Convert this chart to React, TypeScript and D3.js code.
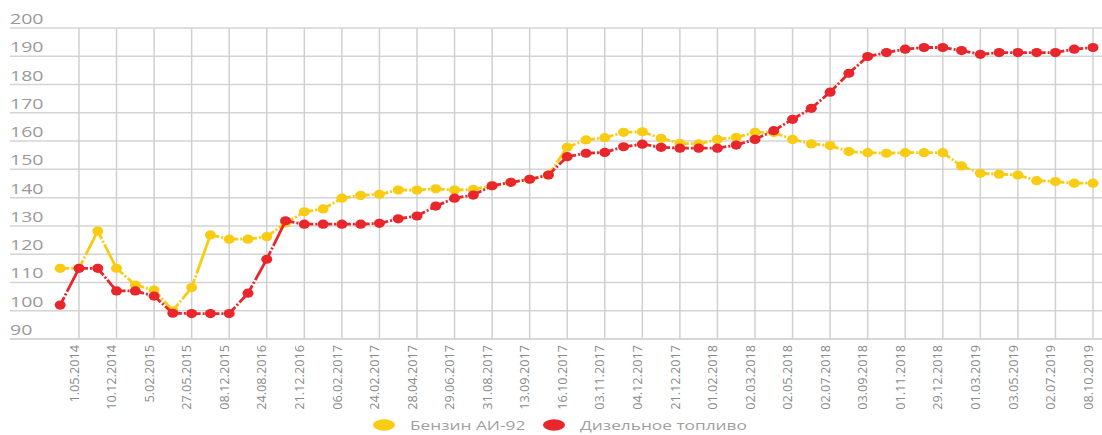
import React from "react";
import * as d3 from "d3";

const dateLabels = [
  "1.05.2014", "10.12.2014", "5.02.2015", "27.05.2015", "08.12.2015", "24.08.2016",
  "21.12.2016", "06.02.2017", "24.02.2017", "28.04.2017", "29.06.2017", "31.08.2017",
  "13.09.2017", "16.10.2017", "03.11.2017", "04.12.2017", "21.12.2017", "01.02.2018",
  "02.03.2018", "02.05.2018", "02.07.2018", "03.09.2018", "01.11.2018", "29.12.2018",
  "01.03.2019", "03.05.2019", "02.07.2019", "08.10.2019",
];

const benzin = [
  115, 115, 128.2, 115, 109.1, 107.3, 100, 108.2, 126.8, 125.3, 125.3, 126.2, 131, 135,
  136, 139.8, 140.8, 141.2, 142.7, 142.7, 143.1, 142.7, 142.9, 144.2, 145.4, 146.5, 148, 157.8,
  160.4, 161.2, 163.1, 163.3, 161, 159.2, 159, 160.6, 161.3, 163.1, 163, 160.6, 159, 158.4,
  156.3, 155.9, 155.7, 155.9, 155.9, 155.9, 151.2, 148.6, 148.3, 148, 146, 145.7, 145.1, 145.1,
];

const diesel = [
  102, 115, 115, 107, 107, 105.2, 99.1, 99, 99, 99, 106.2, 118.2, 131.8, 130.6,
  130.6, 130.6, 130.6, 130.9, 132.5, 133.5, 137, 139.8, 140.9, 144.2, 145.4, 146.5, 148, 154.5,
  155.7, 156, 158, 158.9, 157.8, 157.5, 157.5, 157.5, 158.6, 160.6, 163.7, 167.7, 171.6, 177.3,
  184, 189.9, 191.3, 192.5, 193.1, 193.1, 192, 190.7, 191.3, 191.3, 191.3, 191.3, 192.5, 193.1,
];

const yTicks = [200, 190, 180, 170, 160, 150, 140, 130, 120, 110, 100, 90];

const seriesNames = ["Бензин АИ-92", "Дизельное топливо"];
const seriesColors = ["#f7cc12", "#e8262c"];

export default function App() {
  const W = 1102;
  const H = 435;
  const n = benzin.length;
  const x = d3.scaleLinear().domain([0, n - 1]).range([60.2, 1093]);
  const y = d3.scaleLinear().domain([90, 200]).range([339, 28]);
  const gridX = dateLabels.map((_, k) => x(2 * k + 1));
  const line = d3.line<[number, number]>().x((d) => d[0]).y((d) => d[1]);

  const series = [benzin, diesel];

  return (
    <div style={{ position: "absolute", left: 0, top: 0 }}>
      <svg width={W} height={H} style={{ display: "block", fontFamily: "'Open Sans', sans-serif" }}>
        <rect width={W} height={H} fill="#fff" />
        {yTicks.map((t) => (
          <line key={"h" + t} x1={10} x2={W} y1={y(t)} y2={y(t)} stroke={t === 90 ? "#c8c8c8" : "#d4d4d4"} strokeWidth={1.5} />
        ))}
        {gridX.map((gx, k) => (
          <line key={"v" + k} x1={gx} x2={gx} y1={y(200)} y2={y(90)} stroke="#d0d0d0" strokeWidth={1.5} />
        ))}
        {yTicks.map((t) => (
          <text key={"yl" + t} transform={`translate(10,${y(t) - 4}) scale(1.3,1)`} fontSize={15} fill="#9a9a9a">
            {t}
          </text>
        ))}
        {dateLabels.map((lab, k) => (
          <text
            key={"xl" + k}
            transform={`translate(${gridX[k] - 5},345) rotate(-90) scale(1.06,1.1)`}
            textAnchor="end"
            dy="0.35em"
            fontSize={12}
            fill="#8a8a8a"
          >
            {lab}
          </text>
        ))}
        {series.map((vals, s) => (
          <g key={"s" + s}>
            {vals.slice(1).map((v, i) => (
              <path
                key={"seg" + i}
                d={line([[x(i), y(vals[i])], [x(i + 1), y(v)]]) || ""}
                fill="none"
                stroke={seriesColors[s]}
                strokeWidth={2.8}
                strokeDasharray="9 2 2 2 200"
              />
            ))}
            {vals.map((v, i) => (
              <ellipse key={"m" + i} cx={x(i)} cy={y(v)} rx={5.5} ry={4.6} fill={seriesColors[s]} />
            ))}
          </g>
        ))}
        {seriesNames.map((name, s) => {
          const lx = s === 0 ? 384 : 554;
          return (
            <g key={"lg" + s}>
              <ellipse cx={lx} cy={425} rx={11} ry={5.8} fill={seriesColors[s]} />
              <text transform={`translate(${lx + 26},430) scale(1.28,1)`} fontSize={13.5} fill="#a0a0a0">
                {name}
              </text>
            </g>
          );
        })}
      </svg>
    </div>
  );
}
